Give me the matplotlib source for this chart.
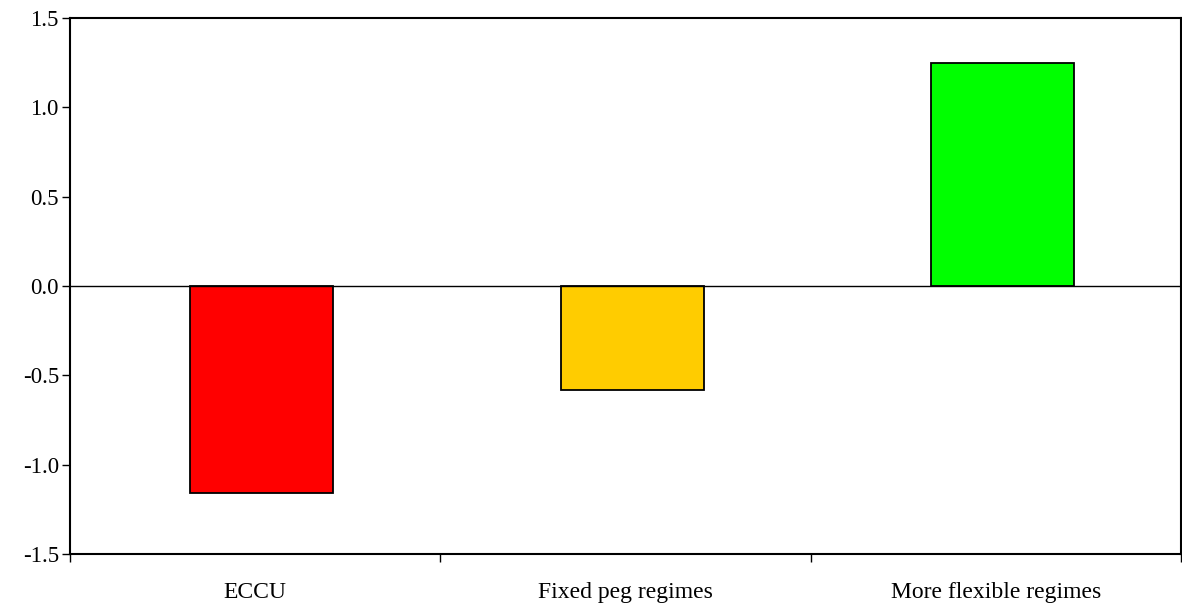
import matplotlib
matplotlib.use('Agg')
import matplotlib.pyplot as plt
import numpy as np

plt.rcParams['font.family'] = ['Liberation Serif', 'DejaVu Serif']

# データ
regimes = ['ECCU', 'Fixed peg regimes', 'More flexible regimes']
values = [-1.16, -0.58, 1.25]
bar_colors = ['#ff0000', '#ffcc00', '#00ff00']
yticks = [-1.5, -1.0, -0.5, 0.0, 0.5, 1.0, 1.5]

fig = plt.figure(figsize=(11.82, 6.06), dpi=100)
ax = fig.add_axes([70 / 1182, 1 - 554 / 606, 1111 / 1182, 536 / 606])

x = np.arange(len(regimes))
ax.bar(x + 0.018, values, width=0.386, color=bar_colors,
       edgecolor='black', linewidth=1.3, zorder=2)

# ゼロ線
ax.axhline(0, color='black', linewidth=1.0, zorder=3)

ax.set_xlim(-0.5, len(regimes) - 0.5)
ax.set_ylim(-1.5, 1.5)

ax.set_yticks(yticks)
ax.set_yticklabels(['%.1f' % v for v in yticks])

# 目盛りはカテゴリの境界に、ラベルは中央に
ax.set_xticks(x)
ax.set_xticklabels(regimes)
ax.set_xticks(np.arange(len(regimes) + 1) - 0.5, minor=True)
ax.tick_params(axis='x', which='major', length=0, pad=20, labelsize=17)
ax.tick_params(axis='x', which='minor', length=6, width=1.0, direction='out')
ax.tick_params(axis='y', which='major', length=6, width=1.0, direction='out',
               labelsize=16.5, pad=2)

for s in ax.spines.values():
    s.set_linewidth(1.5)
    s.set_color('black')

plt.savefig('out.png', dpi=100)
plt.close()
